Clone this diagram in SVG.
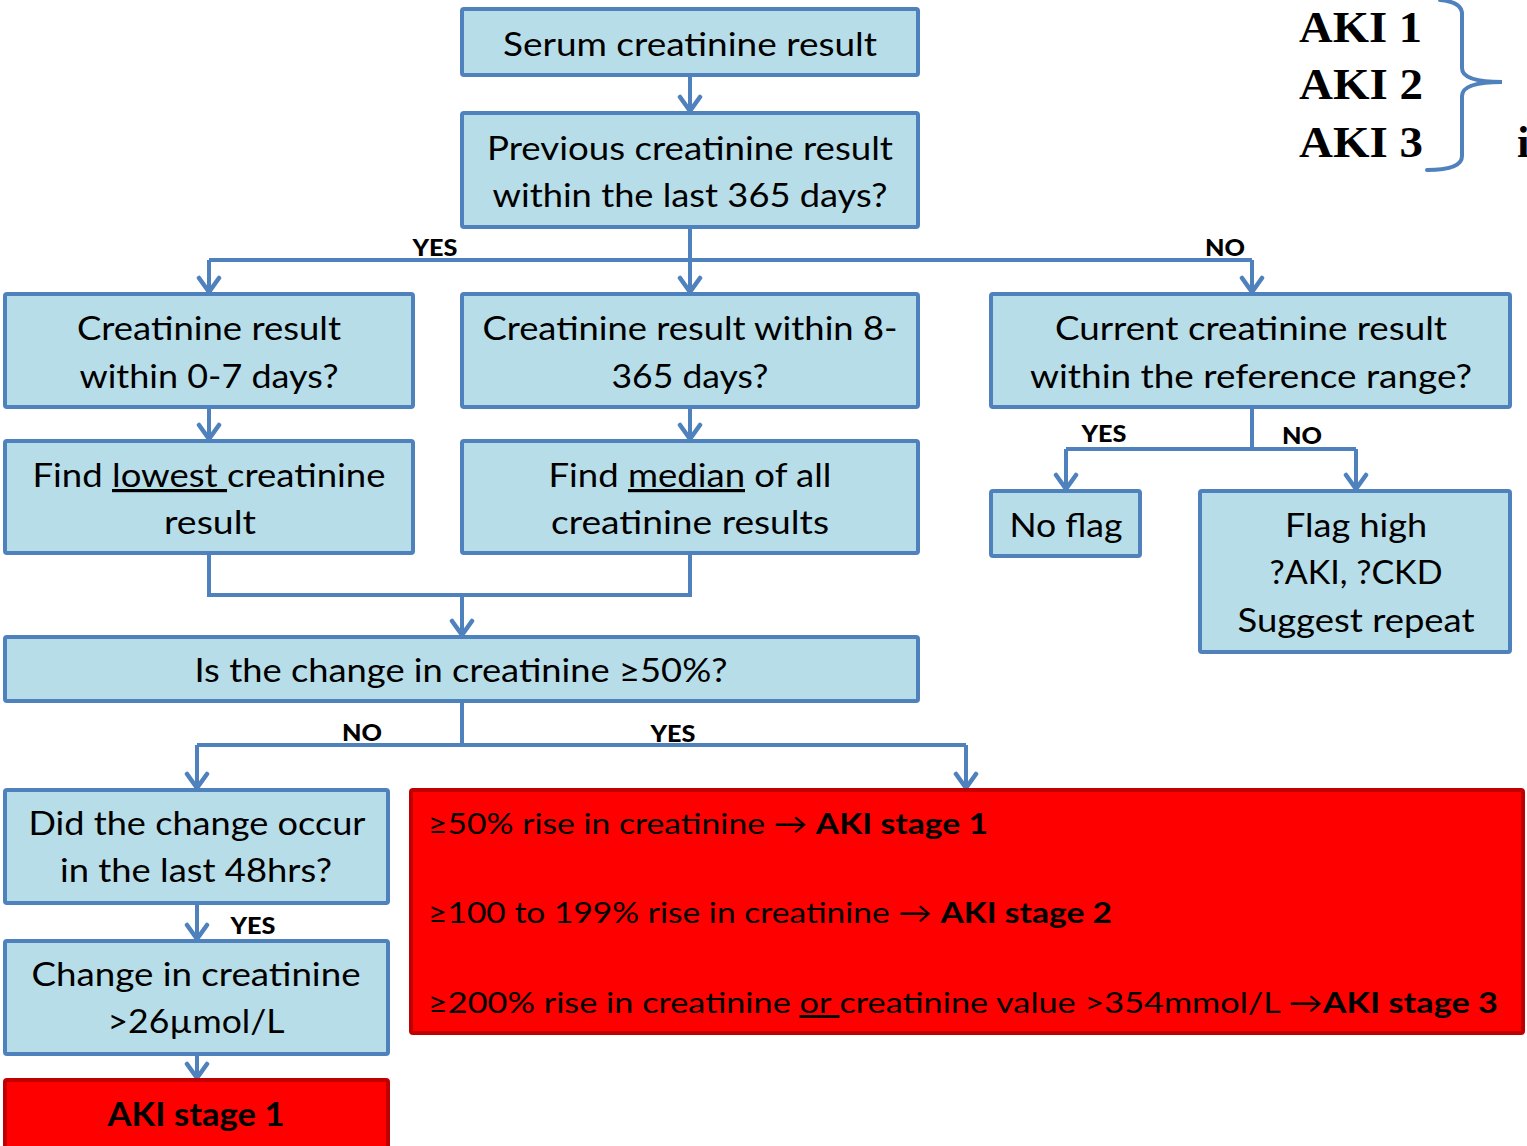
<svg xmlns="http://www.w3.org/2000/svg" width="1527" height="1146" viewBox="0 0 1527 1146">
<defs>
<marker id="arrD" viewBox="0 0 26 26" refX="13" refY="24" markerWidth="26" markerHeight="26" markerUnits="userSpaceOnUse">
<path d="M3,10 L13,24 L23,10" fill="none" stroke="#4f81bd" stroke-width="4.5" stroke-linecap="round" stroke-linejoin="round"/>
</marker>
</defs>
<style>
.box{fill:#b7dde8;stroke:#4f81bd;stroke-width:4}
.red{fill:#ff0000;stroke:#c00000;stroke-width:4}
.t{font-family:Lato,"Open Sans","Liberation Sans",sans-serif;font-size:32px;fill:#000;text-anchor:middle}
.r{font-family:Lato,"Open Sans","Liberation Sans",sans-serif;font-size:29px;fill:#000}
.b{font-weight:bold}
.lbl{font-family:Lato,"Open Sans","Liberation Sans",sans-serif;font-size:23px;font-weight:900;fill:#000;text-anchor:middle}
.aki{font-family:"Liberation Serif","Times New Roman",serif;font-size:45px;font-weight:bold;fill:#000}
.c{fill:none;stroke:#4f81bd;stroke-width:4}
</style>
<rect width="1527" height="1146" fill="#fff"/>

<g id="connectors">
<line class="c" x1="690" y1="75" x2="690" y2="111" marker-end="url(#arrD)"/>
<line class="c" x1="690" y1="227" x2="690" y2="260"/>
<line class="c" x1="209" y1="260" x2="1252" y2="260"/>
<line class="c" x1="209" y1="260" x2="209" y2="292" marker-end="url(#arrD)"/>
<line class="c" x1="690" y1="260" x2="690" y2="292" marker-end="url(#arrD)"/>
<line class="c" x1="1252" y1="260" x2="1252" y2="292" marker-end="url(#arrD)"/>
<line class="c" x1="209" y1="407" x2="209" y2="439" marker-end="url(#arrD)"/>
<line class="c" x1="690" y1="407" x2="690" y2="439" marker-end="url(#arrD)"/>
<line class="c" x1="1252" y1="407" x2="1252" y2="449"/>
<line class="c" x1="1066" y1="449" x2="1356" y2="449"/>
<line class="c" x1="1066" y1="449" x2="1066" y2="489" marker-end="url(#arrD)"/>
<line class="c" x1="1356" y1="449" x2="1356" y2="489" marker-end="url(#arrD)"/>
<polyline class="c" points="209,553 209,595 690,595 690,553"/>
<line class="c" x1="462" y1="595" x2="462" y2="635" marker-end="url(#arrD)"/>
<line class="c" x1="462" y1="701" x2="462" y2="745"/>
<line class="c" x1="197" y1="745" x2="966" y2="745"/>
<line class="c" x1="197" y1="745" x2="197" y2="788" marker-end="url(#arrD)"/>
<line class="c" x1="966" y1="745" x2="966" y2="788" marker-end="url(#arrD)"/>
<line class="c" x1="197" y1="903" x2="197" y2="939" marker-end="url(#arrD)"/>
<line class="c" x1="197" y1="1054" x2="197" y2="1078" marker-end="url(#arrD)"/>
<text class="lbl" x="435" y="256" textLength="45" lengthAdjust="spacingAndGlyphs">YES</text>
<text class="lbl" x="1225" y="256" textLength="40" lengthAdjust="spacingAndGlyphs">NO</text>
<text class="lbl" x="1104" y="442" textLength="45" lengthAdjust="spacingAndGlyphs">YES</text>
<text class="lbl" x="1302" y="444" textLength="40" lengthAdjust="spacingAndGlyphs">NO</text>
<text class="lbl" x="362" y="741" textLength="40" lengthAdjust="spacingAndGlyphs">NO</text>
<text class="lbl" x="673" y="742" textLength="45" lengthAdjust="spacingAndGlyphs">YES</text>
<text class="lbl" x="253" y="934" textLength="45" lengthAdjust="spacingAndGlyphs">YES</text>
</g>

<g id="n1">
<rect class="box" x="462" y="9" width="456" height="66" rx="2"/>
<text class="t" x="690" y="56" textLength="374" lengthAdjust="spacingAndGlyphs">Serum creatinine result</text>
</g>
<g id="n2">
<rect class="box" x="462" y="113" width="456" height="114" rx="2"/>
<text class="t" x="690" y="160" textLength="406" lengthAdjust="spacingAndGlyphs">Previous creatinine result</text>
<text class="t" x="690" y="207" textLength="395" lengthAdjust="spacingAndGlyphs">within the last 365 days?</text>
</g>
<g id="n3">
<rect class="box" x="5" y="294" width="408" height="113" rx="2"/>
<text class="t" x="209" y="340" textLength="264" lengthAdjust="spacingAndGlyphs">Creatinine result</text>
<text class="t" x="209" y="388" textLength="259" lengthAdjust="spacingAndGlyphs">within 0-7 days?</text>
</g>
<g id="n4">
<rect class="box" x="462" y="294" width="456" height="113" rx="2"/>
<text class="t" x="690" y="340" textLength="415" lengthAdjust="spacingAndGlyphs">Creatinine result within 8-</text>
<text class="t" x="690" y="388" textLength="157" lengthAdjust="spacingAndGlyphs">365 days?</text>
</g>
<g id="n5">
<rect class="box" x="991" y="294" width="519" height="113" rx="2"/>
<text class="t" x="1251" y="340" textLength="392" lengthAdjust="spacingAndGlyphs">Current creatinine result</text>
<text class="t" x="1251" y="388" textLength="442" lengthAdjust="spacingAndGlyphs">within the reference range?</text>
</g>
<g id="n6">
<rect class="box" x="5" y="441" width="408" height="112" rx="2"/>
<text class="t" x="209" y="487" textLength="353" lengthAdjust="spacingAndGlyphs">Find <tspan text-decoration="underline">lowest </tspan>creatinine</text>
<text class="t" x="210" y="534" textLength="92" lengthAdjust="spacingAndGlyphs">result</text>
</g>
<g id="n7">
<rect class="box" x="462" y="441" width="456" height="112" rx="2"/>
<text class="t" x="690" y="487" textLength="283" lengthAdjust="spacingAndGlyphs">Find <tspan text-decoration="underline">median</tspan> of all</text>
<text class="t" x="690" y="534" textLength="278" lengthAdjust="spacingAndGlyphs">creatinine results</text>
</g>
<g id="n8">
<rect class="box" x="991" y="491" width="149" height="65" rx="2"/>
<text class="t" x="1066" y="537" textLength="113" lengthAdjust="spacingAndGlyphs">No flag</text>
</g>
<g id="n9">
<rect class="box" x="1200" y="491" width="310" height="161" rx="2"/>
<text class="t" x="1356" y="537" textLength="142" lengthAdjust="spacingAndGlyphs">Flag high</text>
<text class="t" x="1356" y="584" textLength="173" lengthAdjust="spacingAndGlyphs">?AKI, ?CKD</text>
<text class="t" x="1356" y="632" textLength="237" lengthAdjust="spacingAndGlyphs">Suggest repeat</text>
</g>
<g id="n10">
<rect class="box" x="5" y="637" width="913" height="64" rx="2"/>
<text class="t" x="461" y="682" textLength="533" lengthAdjust="spacingAndGlyphs">Is the change in creatinine ≥50%?</text>
</g>
<g id="n11">
<rect class="box" x="5" y="790" width="383" height="113" rx="2"/>
<text class="t" x="197" y="835" textLength="337" lengthAdjust="spacingAndGlyphs">Did the change occur</text>
<text class="t" x="196" y="882" textLength="272" lengthAdjust="spacingAndGlyphs">in the last 48hrs?</text>
</g>
<g id="n12">
<rect class="box" x="5" y="941" width="383" height="113" rx="2"/>
<text class="t" x="196" y="986" textLength="329" lengthAdjust="spacingAndGlyphs">Change in creatinine</text>
<text class="t" x="196" y="1033" textLength="177" lengthAdjust="spacingAndGlyphs">&gt;26µmol/L</text>
</g>
<g id="n13">
<rect class="red" x="5" y="1080" width="383" height="75" rx="2"/>
<text class="t b" x="196" y="1126" textLength="177" lengthAdjust="spacingAndGlyphs">AKI stage 1</text>
</g>
<g id="n14">
<rect class="red" x="411" y="790" width="1112" height="243" rx="2"/>
<text class="r" x="428" y="834" textLength="560" lengthAdjust="spacingAndGlyphs">≥50% rise in creatinine → <tspan class="b">AKI stage 1</tspan></text>
<text class="r" x="428" y="923" textLength="684" lengthAdjust="spacingAndGlyphs">≥100 to 199% rise in creatinine → <tspan class="b">AKI stage 2</tspan></text>
<text class="r" x="428" y="1013" textLength="1070" lengthAdjust="spacingAndGlyphs">≥200% rise in creatinine <tspan text-decoration="underline">or </tspan> creatinine value &gt;354mmol/L →<tspan class="b">AKI stage 3</tspan></text>
</g>
<g id="aki">
<text class="aki" x="1299" y="42" textLength="123" lengthAdjust="spacingAndGlyphs">AKI 1</text>
<text class="aki" x="1299" y="99" textLength="124" lengthAdjust="spacingAndGlyphs">AKI 2</text>
<text class="aki" x="1299" y="157" textLength="124" lengthAdjust="spacingAndGlyphs">AKI 3</text>
<text class="aki" x="1517" y="157">i</text>
<path d="M1440,0 Q1462,2 1462,14 L1462,68 Q1462,82 1502,82 Q1462,82 1462,96 L1462,156 Q1462,170 1427,170" fill="none" stroke="#4f81bd" stroke-width="4" stroke-linecap="round"/>
</g>
</svg>
